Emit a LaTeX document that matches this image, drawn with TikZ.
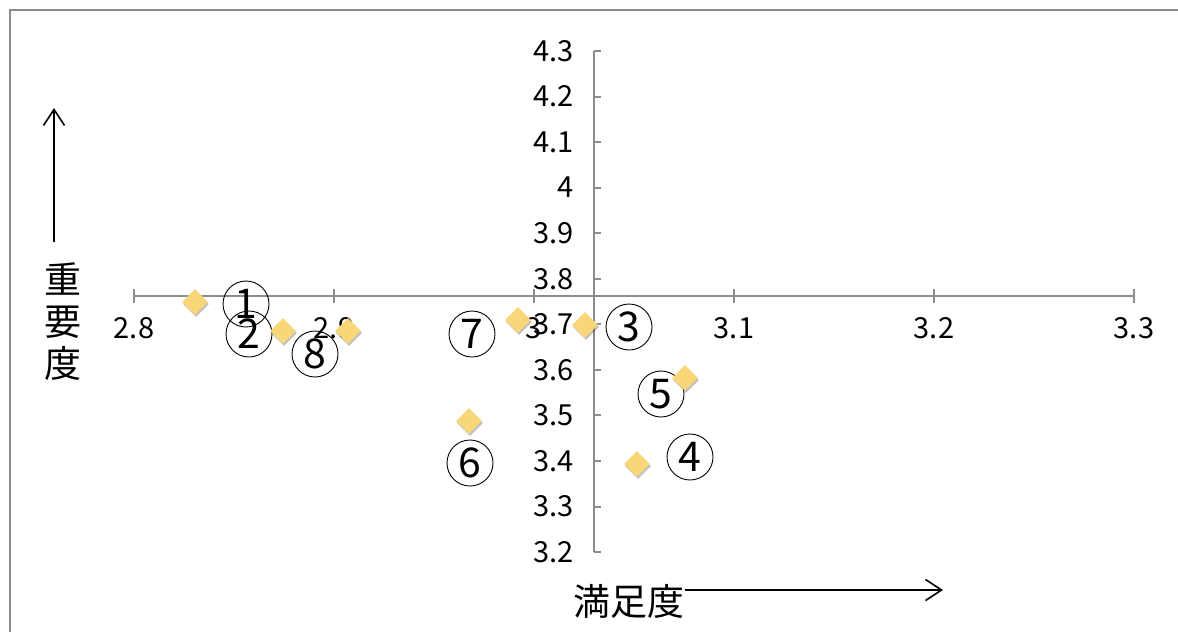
\documentclass[tikz,border=0pt]{standalone}
\usepackage{fontspec}
\setmainfont{Noto Sans CJK JP}
\usetikzlibrary{arrows.meta}
\usetikzlibrary{shapes.geometric}
\usetikzlibrary{shadows}
\definecolor{axisgray}{HTML}{8C8C8C}
\definecolor{pointyellow}{HTML}{F9D778}
\tikzset{>={Straight Barb[length=16pt, width=21pt]}}

\begin{document}
\begin{tikzpicture}[x=1pt, y=-1pt,
    axis/.style={axisgray, line width=2pt},
    ticklabel/.style={inner sep=0pt, font=\fontsize{29}{29}\selectfont},
    point/.style={diamond, fill=pointyellow, minimum width=26pt, minimum height=26pt, inner sep=0pt,
        drop shadow={shadow xshift=1pt, shadow yshift=-2pt, opacity=.25, fill=black}},
    num/.style={circle, draw, line width=.9pt, minimum size=46pt, inner sep=0pt, font=\fontsize{41}{41}\selectfont},
    caption/.style={inner sep=0pt, font=\fontsize{37}{42}\selectfont}]
    \useasboundingbox (0, 0) rectangle (1178, 632);
    \draw[axisgray, line width=2.5pt](10, 632)--(10, 10)--(1178, 10);
    % axes
    \draw[axis](134, 296)--(1134, 296);
    \draw[axis](594, 51)--(594, 552);
    \foreach \v [count=\i from 0] in {2.8, 2.9, 3, 3.1, 3.2, 3.3}{
        \draw[axis](134+200*\i, 289)--(134+200*\i, 303);
        \node[ticklabel] (xl\i) at (134+200*\i, 328) {\v};
    }
    \foreach \v [count=\i from 0] in {4.3, 4.2, 4.1, 4, 3.9, 3.8, 3.7, 3.6, 3.5, 3.4, 3.3, 3.2}{
        \draw[axis](594, 51+45.55*\i)--(601, 51+45.55*\i);
        \node[ticklabel, anchor=east] (yl\i) at (574, 51+45.55*\i) {\v};
    }
    % labels
    \node[num] (n1) at (246, 304) {1};
    \node[num] (n2) at (249, 334) {2};
    \node[num] (n3) at (629, 327) {3};
    \node[num] (n4) at (690, 457) {4};
    \node[num] (n5) at (661, 394) {5};
    \node[num] (n6) at (470, 463) {6};
    \node[num] (n7) at (472, 334) {7};
    \node[num] (n8) at (315, 354) {8};
    % data
    \foreach \x/\y [count=\k] in {195/302, 283/331, 348/331, 518/320, 585/325, 685/378, 469/421, 637/464}
        \node[point] (p\k) at (\x, \y) {};
    % axis names
    \node[caption, align=center] (imp) at (63, 322) {重\\要\\度};
    \coordinate (imp-base) at (54, 242);
    \coordinate (imp-tip) at (54, 108);
    \draw[->, line width=1.6pt](imp-base)--(imp-tip);
    \node[caption] (sat) at (629, 601) {満足度};
    \coordinate (sat-tip) at (943, 590);
    \draw[->, line width=1.6pt](sat.east |- sat-tip)--(sat-tip);
\end{tikzpicture}
\end{document}
